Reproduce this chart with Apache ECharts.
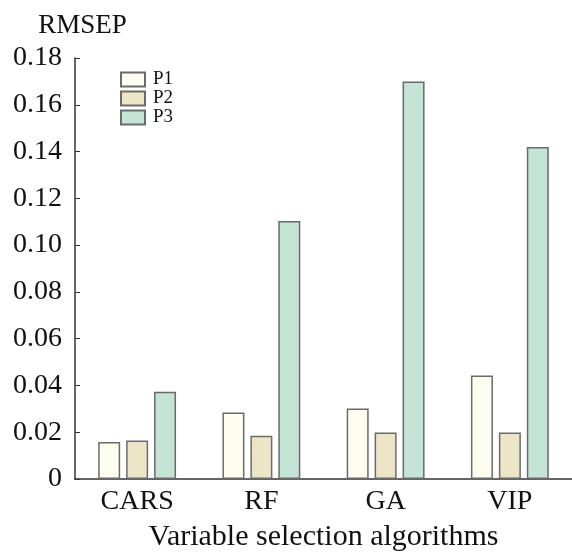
<!DOCTYPE html>
<html>
<head>
<meta charset="utf-8">
<script src="https://cdn.jsdelivr.net/npm/echarts@6/dist/echarts.min.js"></script>
<style>html,body{margin:0;padding:0;background:#fff}#c{width:572px;height:557px}</style>
</head>
<body>
<div id="c"></div>
<script>
var categories = ['CARS', 'RF', 'GA', 'VIP'];
var seriesNames = ['P1', 'P2', 'P3'];
var p1 = [0.0158, 0.0284, 0.0301, 0.0442];
var p2 = [0.0165, 0.0185, 0.0199, 0.0199];
var p3 = [0.0373, 0.1103, 0.1700, 0.1420];
var yTicks = [0, 0.02, 0.04, 0.06, 0.08, 0.10, 0.12, 0.14, 0.16, 0.18];
var colors = ['#fdfdf0', '#ede6c6', '#c4e5d5'];

var font = 'Liberation Serif';
var chart = echarts.init(document.getElementById('c'), null, {renderer: 'canvas'});
var dataSets = [p1, p2, p3];
chart.setOption({
  animation: false,
  backgroundColor: '#fff',
  grid: {left: 75, right: -9, top: 58, bottom: 74, containLabel: false},
  legend: {
    data: seriesNames,
    orient: 'vertical',
    left: 120, top: 70,
    padding: 0,
    itemWidth: 24, itemHeight: 14, itemGap: 0,
    icon: 'rect',
    textStyle: {fontFamily: font, fontSize: 19, lineHeight: 19, color: '#111', padding: [0, 0, 0, 3]}
  },
  xAxis: {
    type: 'category',
    data: categories,
    name: 'Variable selection algorithms',
    nameLocation: 'middle',
    nameGap: 43,
    nameTextStyle: {fontFamily: font, fontSize: 30, color: '#111'},
    axisLine: {lineStyle: {color: '#333', width: 1.5}},
    axisTick: {show: true, inside: true, alignWithLabel: true, length: 3, lineStyle: {color: '#333'}},
    axisLabel: {fontFamily: font, fontSize: 28, color: '#111', margin: 9}
  },
  yAxis: {
    type: 'value',
    min: 0, max: 0.18, interval: 0.02,
    name: 'RMSEP',
    nameLocation: 'end',
    nameGap: 19,
    nameTextStyle: {fontFamily: font, fontSize: 27, color: '#111', align: 'center', padding: [0, 0, 0, 15]},
    axisLine: {show: true, lineStyle: {color: '#333', width: 1.5}},
    axisTick: {show: true, inside: true, length: 5, lineStyle: {color: '#333'}},
    splitLine: {show: false},
    axisLabel: {
      fontFamily: font, fontSize: 28, color: '#111', margin: 13,
      formatter: function (v) {
        var i = yTicks.findIndex(function (t) { return Math.abs(t - v) < 1e-9; });
        if (i < 0) return '';
        return yTicks[i] === 0 ? '0' : yTicks[i].toFixed(2);
      }
    }
  },
  series: seriesNames.map(function (n, i) {
    return {
      name: n,
      type: 'bar',
      data: dataSets[i],
      barWidth: 22,
      barGap: '27%',
      itemStyle: {color: colors[i], borderColor: '#6b6b6b', borderWidth: 1.5}
    };
  })
});
</script>
</body>
</html>
